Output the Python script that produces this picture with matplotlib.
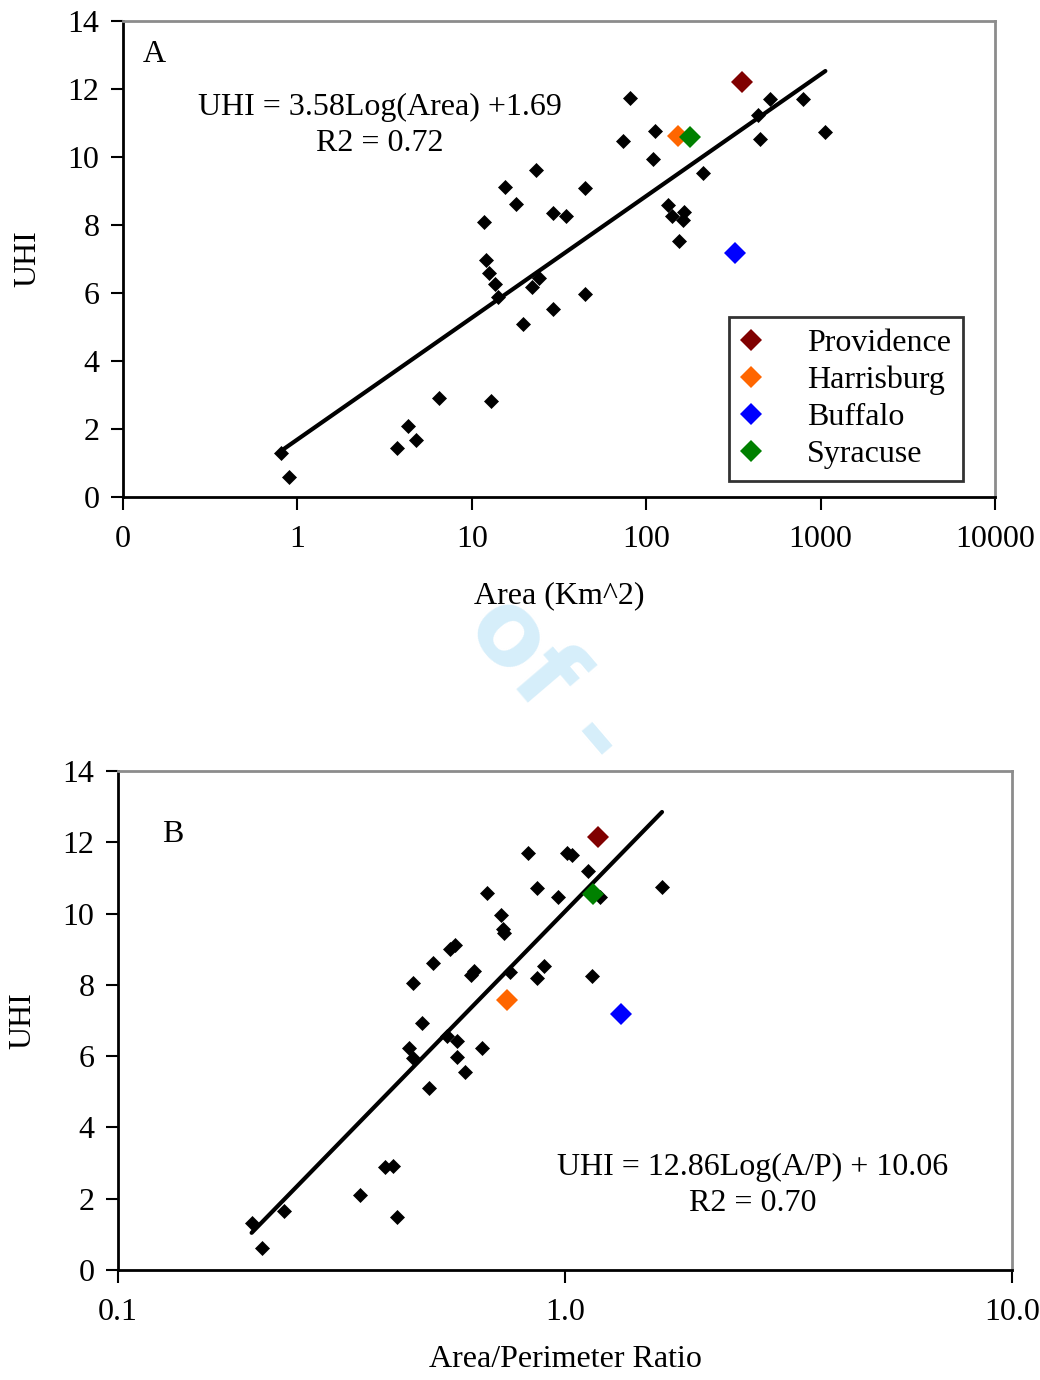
import matplotlib
matplotlib.use("Agg")
import matplotlib.pyplot as plt
import numpy as np
from matplotlib.transforms import Bbox, TransformedBbox

plt.rcParams["font.family"] = ["Liberation Serif", "DejaVu Serif"]
plt.rcParams["font.size"] = 23

# --- panel A: UHI vs urban area (km^2) ---
area_other = [0.81, 0.89, 3.70, 4.33, 4.81, 6.52, 12.96, 11.81, 12.13, 12.62,
              13.66, 14.21, 15.58, 18.02, 19.77, 22.26, 24.42, 23.47, 29.37,
              34.86, 29.37, 44.8, 44.8, 74.0, 81.2, 112.9, 110.0, 212.8, 134.1,
              141.3, 165.6, 163.4, 155.0, 439.8, 515.5, 451.6, 797.0, 1065.0]
uhi_area_other = [1.29, 0.59, 1.44, 2.09, 1.68, 2.91, 2.82, 8.09, 6.97, 6.59,
                  6.26, 5.88, 9.12, 8.62, 5.09, 6.18, 6.44, 9.62, 8.35,
                  8.26, 5.53, 9.09, 5.97, 10.47, 11.74, 10.76, 9.94, 9.53, 8.59,
                  8.26, 8.38, 8.15, 7.53, 11.24, 11.71, 10.53, 11.71, 10.74]

# --- panel B: UHI vs area/perimeter ratio ---
ap_other = [0.826, 1.010, 1.037, 1.126, 1.198, 1.648, 0.866, 0.965, 0.669, 0.719,
            0.727, 0.731, 0.553, 0.567, 0.507, 0.616, 0.626, 0.457, 0.753, 0.898,
            0.866, 1.149, 0.479, 0.545, 0.574, 0.448, 0.652, 0.457, 0.574, 0.597,
            0.496, 0.396, 0.412, 0.348, 0.421, 0.235, 0.199, 0.210]
uhi_ap_other = [11.70, 11.70, 11.64, 11.19, 10.47, 10.75, 10.72, 10.47, 10.58, 9.96,
                9.57, 9.46, 9.01, 9.12, 8.61, 8.28, 8.39, 8.05, 8.36, 8.53,
                8.19, 8.25, 6.93, 6.57, 6.43, 6.23, 6.23, 5.95, 5.98, 5.56,
                5.11, 2.89, 2.92, 2.10, 1.49, 1.66, 1.32, 0.62]

# highlighted cities
cities = ["Providence", "Harrisburg", "Buffalo", "Syracuse"]
city_colors = ["#800000", "#ff6600", "#0000ff", "#008000"]
city_area = [356, 153, 325, 179]
city_uhi_area = [12.21, 10.62, 7.18, 10.59]
city_ap = [1.185, 0.742, 1.335, 1.155]
city_uhi_ap = [12.15, 7.58, 7.18, 10.55]

# log fits
fit_area = (3.58, 1.69)
fit_ap = (12.86, 10.06)

fig = plt.figure(figsize=(10.4, 13.8), dpi=100)

# faint watermark showing between the two charts
wm = fig.text(0.526, 0.506, "of -", fontsize=73, fontweight="bold",
              family="DejaVu Sans", color="#d6eefa", rotation=-49.5,
              ha="center", va="center", rotation_mode="anchor", zorder=0)
wm.set_clip_box(TransformedBbox(Bbox([[0, 0.44], [1, 0.563]]), fig.transFigure))


def style_axes(ax):
    for side in ["left", "bottom"]:
        ax.spines[side].set_color("black")
        ax.spines[side].set_linewidth(2)
    for side in ["top", "right"]:
        ax.spines[side].set_color("#8c8c8c")
        ax.spines[side].set_linewidth(2)
    ax.tick_params(direction="out", length=9, width=1.5, colors="black",
                   labelsize=23, pad=8)
    ax.tick_params(axis="x", pad=11)
    ax.tick_params(which="minor", length=0)
    ax.set_ylim(0, 14)
    ax.set_yticks(range(0, 15, 2))
    ax.set_ylabel("UHI", fontsize=23, labelpad=18)


def draw_panel(ax, x, y, cx, cy, fit):
    ax.plot(x, y, "D", color="black", ms=7, mew=0.5, ls="none", zorder=3)
    xs = np.array([min(x), max(x)])
    ax.plot(xs, fit[0] * np.log10(xs) + fit[1], color="black", lw=3,
            solid_capstyle="round", zorder=2)
    handles = []
    for i in range(len(cities)):
        h, = ax.plot(cx[i], cy[i], "D", color=city_colors[i], ms=11, mew=0,
                     ls="none", zorder=4, label=cities[i])
        handles.append(h)
    return handles


# panel A
axA = fig.add_axes([0.1183, 0.6399, 0.8384, 0.3449])
axA.set_xscale("log")
axA.set_xlim(0.1, 10000)
handles = draw_panel(axA, area_other, uhi_area_other, city_area,
                     city_uhi_area, fit_area)
style_axes(axA)
axA.set_xticks([0.1, 1, 10, 100, 1000, 10000])
axA.set_xticklabels(["0", "1", "10", "100", "1000", "10000"])
axA.set_xlabel("Area (Km^2)", fontsize=23, labelpad=20)
axA.text(0.023, 0.9286, "A", transform=axA.transAxes, fontsize=23,
         ha="left", va="center")
axA.text(0.2947, 0.7815, "UHI = 3.58Log(Area) +1.69\nR2 = 0.72",
         transform=axA.transAxes, fontsize=23, ha="center", va="center",
         multialignment="center", linespacing=1.32)
leg = axA.legend(handles=handles, loc="lower right",
                 bbox_to_anchor=(0.963, 0.034), frameon=True, fancybox=False,
                 edgecolor="black", fontsize=23, handlelength=0.7,
                 handletextpad=1.4, borderpad=0.36, labelspacing=0.24,
                 borderaxespad=0, numpoints=1)
leg.get_frame().set_linewidth(2)

# panel B
axB = fig.add_axes([0.1135, 0.0797, 0.8596, 0.3616])
axB.set_xscale("log")
axB.set_xlim(0.1, 10)
draw_panel(axB, ap_other, uhi_ap_other, city_ap, city_uhi_ap, fit_ap)
style_axes(axB)
axB.set_xticks([0.1, 1, 10])
axB.set_xticklabels(["0.1", "1.0", "10.0"])
axB.set_xlabel("Area/Perimeter Ratio", fontsize=23, labelpad=13)
axB.text(0.049, 0.872, "B", transform=axB.transAxes, fontsize=23,
         ha="left", va="center")
axB.text(0.710, 0.170, "UHI = 12.86Log(A/P) + 10.06\nR2 = 0.70",
         transform=axB.transAxes, fontsize=23, ha="center", va="center",
         multialignment="center", linespacing=1.32)

fig.savefig("out.png", dpi=100)
